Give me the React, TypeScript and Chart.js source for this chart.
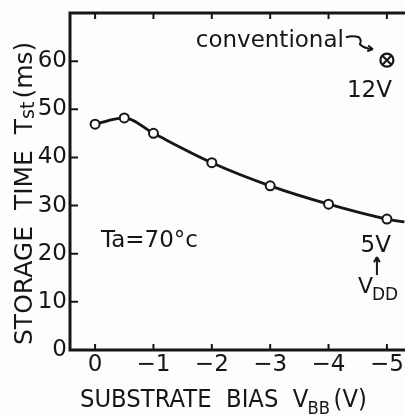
import React, { useEffect, useRef } from 'react';
import { Chart, registerables } from 'chart.js';

Chart.register(...registerables);

// Measured curve (substrate bias V_BB in volts, storage time in ms)
const VBB = [0, -0.5, -1, -2, -3, -4, -5, -5.3];
const TST = [46.9, 48.2, 45.0, 38.9, 34.1, 30.3, 27.2, 26.6];
const MARKED = [true, true, true, true, true, true, true, false];
// Conventional device point
const CONV_VBB = [-5];
const CONV_TST = [60.2];
// Axis ticks
const X_TICKS = [0, -1, -2, -3, -4, -5];
const X_TICK_LABELS = ['0', '−1', '−2', '−3', '−4', '−5'];
const Y_TICKS = [0, 10, 20, 30, 40, 50, 60];
const Y_TICK_LABELS = ['0', '10', '20', '30', '40', '50', '60'];

const INK = '#161616';
const FONT = '"DejaVu Sans", sans-serif';

function drawArrowHead(ctx: CanvasRenderingContext2D, x: number, y: number, ang: number, size: number) {
  ctx.beginPath();
  ctx.moveTo(x, y);
  ctx.lineTo(x - size * Math.cos(ang - 0.5), y - size * Math.sin(ang - 0.5));
  ctx.moveTo(x, y);
  ctx.lineTo(x - size * Math.cos(ang + 0.5), y - size * Math.sin(ang + 0.5));
  ctx.stroke();
}

const framePlugin = {
  id: 'frame',
  beforeDraw(chart: any) {
    const { ctx, width, height } = chart;
    ctx.save();
    ctx.fillStyle = '#fdfdfd';
    ctx.fillRect(0, 0, width, height);
    ctx.restore();
  },
  beforeDatasetsDraw(chart: any) {
    const { ctx, chartArea: ca, scales } = chart;
    const x = scales.x, y = scales.y;
    ctx.save();
    ctx.strokeStyle = INK;
    ctx.lineCap = 'butt';
    ctx.lineWidth = 3;
    ctx.beginPath();
    ctx.moveTo(ca.right, ca.top);
    ctx.lineTo(ca.left, ca.top);
    ctx.lineTo(ca.left, ca.bottom);
    ctx.lineTo(ca.right, ca.bottom);
    ctx.stroke();
    ctx.lineWidth = 2;
    ctx.beginPath();
    X_TICKS.forEach((v) => {
      const px = x.getPixelForValue(v);
      ctx.moveTo(px, ca.bottom);
      ctx.lineTo(px, ca.bottom - 6);
      ctx.moveTo(px, ca.top);
      ctx.lineTo(px, ca.top + 6);
    });
    Y_TICKS.forEach((v) => {
      if (v === 0) return;
      const py = y.getPixelForValue(v);
      ctx.moveTo(ca.left, py);
      ctx.lineTo(ca.left + 8, py);
    });
    ctx.stroke();
    ctx.restore();
  },
  afterDraw(chart: any) {
    const { ctx, chartArea: ca, scales } = chart;
    const x = scales.x, y = scales.y;
    ctx.save();
    ctx.fillStyle = INK;
    ctx.strokeStyle = INK;
    ctx.textBaseline = 'alphabetic';

    // conventional point annotation
    const cx = x.getPixelForValue(CONV_VBB[0]);
    const cy = y.getPixelForValue(CONV_TST[0]);
    ctx.font = `23px ${FONT}`;
    ctx.textAlign = 'right';
    ctx.fillText('conventional', cx - 43, cy - 13);
    ctx.lineWidth = 2;
    ctx.beginPath();
    ctx.moveTo(cx - 41, cy - 23);
    ctx.quadraticCurveTo(cx - 34, cy - 25, cx - 28, cy - 23);
    ctx.quadraticCurveTo(cx - 25, cy - 20, cx - 27, cy - 16);
    ctx.quadraticCurveTo(cx - 23, cy - 12, cx - 15, cy - 11);
    ctx.stroke();
    drawArrowHead(ctx, cx - 14, cy - 11, 0.15, 6);
    ctx.textAlign = 'right';
    ctx.fillText('12V', cx + 5, cy + 37);

    // V_DD = 5V annotation at the last measured point
    const lx = x.getPixelForValue(VBB[6]);
    const ly = y.getPixelForValue(TST[6]);
    ctx.textAlign = 'right';
    ctx.font = `23px ${FONT}`;
    ctx.fillText('5V', lx + 4, ly + 33);
    ctx.lineWidth = 2;
    ctx.beginPath();
    ctx.moveTo(lx - 10, ly + 56);
    ctx.lineTo(lx - 10, ly + 39);
    ctx.stroke();
    drawArrowHead(ctx, lx - 10, ly + 38, -Math.PI / 2, 6);
    ctx.textAlign = 'left';
    ctx.font = `22px ${FONT}`;
    ctx.fillText('V', lx - 29, ly + 74);
    const vw = ctx.measureText('V').width;
    ctx.font = `17px ${FONT}`;
    ctx.fillText('DD', lx - 29 + vw - 1, ly + 81);

    // temperature label
    ctx.font = `23px ${FONT}`;
    ctx.textAlign = 'left';
    ctx.fillText('Ta=70°c', ca.left + 31, ca.top + 234);

    // x-axis title with subscript (slightly condensed lettering)
    ctx.save();
    ctx.translate(80, 407);
    ctx.scale(0.91, 1);
    let tx = 0;
    ctx.textAlign = 'left';
    ctx.font = `25px ${FONT}`;
    const s1 = 'SUBSTRATE  BIAS  V';
    ctx.fillText(s1, tx, 0);
    tx += ctx.measureText(s1).width;
    ctx.font = `18px ${FONT}`;
    ctx.fillText('BB', tx - 1, 7);
    tx += ctx.measureText('BB').width;
    ctx.font = `25px ${FONT}`;
    ctx.fillText('(V)', tx + 3, 0);
    ctx.restore();

    // y-axis title, rotated, with subscript
    ctx.save();
    ctx.translate(32, 345);
    ctx.rotate(-Math.PI / 2);
    let ty = 0;
    ctx.font = `25px ${FONT}`;
    const a1 = 'STORAGE  TIME  T';
    ctx.fillText(a1, ty, 0);
    ty += ctx.measureText(a1).width;
    ctx.font = `19px ${FONT}`;
    ctx.fillText('st', ty, 2);
    ty += ctx.measureText('st').width;
    ctx.font = `25px ${FONT}`;
    ctx.fillText('(ms)', ty + 3, 0);
    ctx.restore();

    ctx.restore();
  },
};

export default function App() {
  const ref = useRef<HTMLCanvasElement | null>(null);
  useEffect(() => {
    if (!ref.current) return;
    const chart = new Chart(ref.current, {
      type: 'scatter',
      data: {
        datasets: [
          {
            type: 'line',
            data: VBB.map((v, i) => ({ x: v, y: TST[i] })),
            borderColor: INK,
            borderWidth: 2.8,
            cubicInterpolationMode: 'monotone',
            pointRadius: MARKED.map((m) => (m ? 4.5 : 0)),
            pointBackgroundColor: '#fdfdfd',
            pointBorderColor: INK,
            pointBorderWidth: 2,
            fill: false,
            order: 3,
          } as any,
          {
            data: CONV_VBB.map((v, i) => ({ x: v, y: CONV_TST[i] })),
            pointStyle: 'crossRot',
            pointRadius: 6,
            pointBorderColor: INK,
            pointBorderWidth: 2,
            order: 1,
          },
          {
            data: CONV_VBB.map((v, i) => ({ x: v, y: CONV_TST[i] })),
            pointStyle: 'circle',
            pointRadius: 6.5,
            pointBackgroundColor: '#fdfdfd',
            pointBorderColor: INK,
            pointBorderWidth: 2.2,
            order: 2,
          },
        ],
      },
      options: {
        animation: false,
        responsive: false,
        events: [],
        layout: { autoPadding: false, padding: { top: 13, right: 0, left: 0, bottom: 0 } },
        plugins: { legend: { display: false }, tooltip: { enabled: false } },
        scales: {
          x: {
            type: 'linear',
            reverse: true,
            min: -5.31,
            max: 0.43,
            grid: { display: false, drawTicks: false },
            border: { display: false },
            afterBuildTicks: (s: any) => {
              s.ticks = X_TICKS.map((v) => ({ value: v }));
            },
            afterFit: (s: any) => {
              s.height = 66;
              s.paddingLeft = 0;
              s.paddingRight = 0;
            },
            ticks: {
              padding: 1,
              color: INK,
              font: { family: FONT, size: 23 },
              maxRotation: 0,
              callback: (v: any) => X_TICK_LABELS[X_TICKS.indexOf(Number(v))] ?? '',
            },
          },
          y: {
            type: 'linear',
            min: 0,
            max: 70,
            grid: { display: false, drawTicks: false },
            border: { display: false },
            afterBuildTicks: (s: any) => {
              s.ticks = Y_TICKS.map((v) => ({ value: v }));
            },
            afterFit: (s: any) => {
              s.width = 70;
              s.paddingTop = 0;
              s.paddingBottom = 0;
            },
            ticks: {
              padding: 3,
              color: INK,
              font: { family: FONT, size: 23 },
              callback: (v: any) => Y_TICK_LABELS[Y_TICKS.indexOf(Number(v))] ?? '',
            },
          },
        },
      },
      plugins: [framePlugin],
    });
    return () => chart.destroy();
  }, []);
  return (
    <div style={{ position: 'absolute', left: 0, top: 0, width: 405, height: 416, background: '#fdfdfd' }}>
      <canvas ref={ref} width={405} height={416} style={{ display: 'block' }} />
    </div>
  );
}
